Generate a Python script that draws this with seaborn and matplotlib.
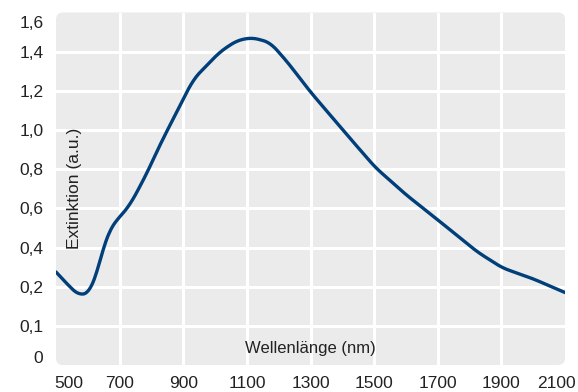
import numpy as np
import pandas as pd
import matplotlib
matplotlib.use("Agg")
import matplotlib.pyplot as plt
import seaborn as sns
from matplotlib.patches import FancyBboxPatch
from matplotlib.transforms import ScaledTranslation

# Data (wavelength in nm, extinction in a.u.)
wavelength = [500, 544, 575, 607, 623, 645, 664, 680, 701, 733, 786, 827,
              912, 931, 1016, 1069, 1116, 1173, 1226, 1299, 1415, 1503, 1600,
              1701, 1824, 1903, 2000, 2100]
extinction = [0.275, 0.199, 0.176, 0.187, 0.235, 0.378, 0.475, 0.52, 0.557,
              0.618, 0.78, 0.925, 1.196, 1.258, 1.40, 1.457, 1.472, 1.447, 1.35,
              1.196, 0.975, 0.81, 0.67, 0.54, 0.378, 0.296, 0.24, 0.185]

# Axis ticks: the y axis is spaced evenly per label, not per value
y_ticks = [0, 0.1, 0.2, 0.4, 0.6, 0.8, 1.0, 1.2, 1.4, 1.6]
y_labels = ["0", "0,1", "0,2", "0,4", "0,6", "0,8", "1,0", "1,2", "1,4", "1,6"]
x_ticks = [500, 700, 900, 1100, 1300, 1500, 1700, 1900, 2100]

df = pd.DataFrame({"nm": wavelength, "ext": extinction})

sns.set_theme(style="white")
plt.rcParams["font.family"] = ["Liberation Sans Narrow", "Liberation Sans", "DejaVu Sans"]

fig = plt.figure(figsize=(5.78, 3.92), dpi=100)
ax = fig.add_axes([56 / 578, 27 / 392, 509 / 578, 352.5 / 392])

# piecewise linear scale: every tick label gets the same distance
idx = np.arange(len(y_ticks), dtype=float)
fwd = lambda v: np.interp(v, y_ticks, idx)
inv = lambda p: np.interp(p, idx, y_ticks)
ax.set_yscale("function", functions=(fwd, inv))

# smooth the curve a little between the read points (in screen space)
xs = np.linspace(500, 2100, 400)
pos = np.interp(xs, df["nm"], fwd(df["ext"].to_numpy()))
kernel = np.ones(11) / 11
pos_s = np.convolve(np.pad(pos, 5, mode="reflect", reflect_type="odd"), kernel, mode="valid")
smooth = pd.DataFrame({"nm": xs, "ext": inv(pos_s)})

ax.set_xlim(500, 2100)
ax.set_ylim(0, 1.6)

# white grid lines, only at the inner ticks
for v in y_ticks[1:-1]:
    ax.axhline(v, color="white", linewidth=2.2, zorder=1)
for v in x_ticks[1:-1]:
    ax.axvline(v, color="white", linewidth=2.2, zorder=1)

sns.lineplot(data=smooth, x="nm", y="ext", ax=ax, color="#003f7a", linewidth=2.4,
             zorder=3)

ax.set_xlim(500, 2100)
ax.set_ylim(0, 1.6)

ax.patch.set_visible(False)
for s in ax.spines.values():
    s.set_visible(False)

bg = FancyBboxPatch((56 / 100, 27 / 100), 509 / 100, 352.5 / 100,
                    boxstyle="round,pad=0,rounding_size=0.07",
                    transform=fig.dpi_scale_trans, facecolor="#ebebeb",
                    edgecolor="none", zorder=-1)
fig.add_artist(bg)

ax.set_yticks(y_ticks)
ax.set_yticklabels(y_labels)
ax.set_xticks(x_ticks)
ax.set_xticklabels([str(t) for t in x_ticks])
ax.grid(False)
ax.tick_params(which="both", length=0)
ax.tick_params(axis="y", pad=9, labelsize=12.5, labelcolor="#222222")
ax.tick_params(axis="x", pad=8, labelsize=12.5, labelcolor="#222222")
ax.set_xlabel("")
ax.set_ylabel("")

# edge labels sit inside the plot range
def shift(label, dx, dy):
    label.set_transform(label.get_transform() + ScaledTranslation(dx / 100, dy / 100, fig.dpi_scale_trans))

ylab = ax.get_yticklabels()
shift(ylab[0], 0, 8)
shift(ylab[-1], 0, -9)
xlab = ax.get_xticklabels()
shift(xlab[0], 13, 0)
shift(xlab[-1], -9, 0)

ax.text(0.5, 0.048, "Wellenlänge (nm)", transform=ax.transAxes, ha="center",
        va="center", fontsize=12, color="#222222", zorder=4)
ax.text(0.036, 0.5, "Extinktion (a.u.)", transform=ax.transAxes, ha="center",
        va="center", rotation=90, fontsize=12.5, color="#222222", zorder=4)

fig.savefig("out.png", dpi=100)
